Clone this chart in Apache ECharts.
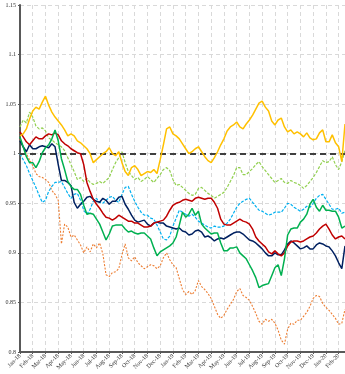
<!DOCTYPE html>
<html>
<head>
<meta charset="utf-8">
<script src="https://cdn.jsdelivr.net/npm/echarts@6/dist/echarts.min.js"></script>
<style>
  html, body { margin: 0; padding: 0; background: #ffffff; }
  #chart { width: 345px; height: 374px; }
</style>
</head>
<body>
<div id="chart"></div>
<script>
// Month labels of the horizontal axis (one tick per month start)
const monthLabels = ['Jan-18','Feb-18','Mar-18','Apr-18','May-18','Jun-18','Jul-18','Aug-18','Sep-18','Oct-18','Nov-18','Dec-18',
  'Jan-19','Feb-19','Mar-19','Apr-19','May-19','Jun-19','Jul-19','Aug-19','Sep-19','Oct-19','Nov-19','Dec-19',
  'Jan-20','Feb-20'];

// Weekly observations, expressed as months elapsed since Jan-18
const weeksPerMonth = 4;
const obsCount = 103;

// Relative performance indices (1 = start level)
const amberSeries = [
  1.018,1.020,1.025,1.035,1.043,1.047,1.045,1.052,1.058,1.049,
  1.042,1.037,1.033,1.029,1.024,1.018,1.020,1.018,1.013,1.011,
  1.008,1.005,1.000,0.991,0.994,0.997,1.000,1.002,1.006,1.000,
  0.998,1.002,0.991,0.982,0.978,0.986,0.988,0.984,0.978,0.980,
  0.982,0.981,0.984,0.980,0.994,1.009,1.025,1.027,1.020,1.018,
  1.015,1.010,1.005,1.000,1.002,1.005,1.007,1.002,0.997,0.993,
  0.991,0.996,1.002,1.009,1.015,1.023,1.027,1.029,1.032,1.027,
  1.025,1.030,1.034,1.039,1.045,1.051,1.053,1.047,1.043,1.033,
  1.029,1.034,1.036,1.027,1.022,1.024,1.020,1.022,1.020,1.017,
  1.021,1.016,1.014,1.015,1.021,1.024,1.012,1.012,1.019,1.011,
  1.007,0.992,1.030];

const limeSeries = [
  1.027,1.034,1.031,1.042,1.037,1.028,1.025,1.026,1.023,1.016,
  1.014,1.011,1.009,1.007,1.003,0.996,0.989,0.982,0.974,0.976,
  0.972,0.975,0.971,0.969,0.970,0.972,0.970,0.973,0.976,0.984,
  0.991,0.996,1.002,0.991,0.982,0.978,0.974,0.976,0.972,0.974,
  0.977,0.974,0.971,0.975,0.979,0.984,0.986,0.983,0.974,0.968,
  0.969,0.966,0.963,0.960,0.958,0.959,0.965,0.966,0.963,0.960,
  0.958,0.955,0.957,0.959,0.961,0.966,0.972,0.978,0.986,0.986,
  0.979,0.979,0.982,0.985,0.989,0.992,0.987,0.983,0.979,0.975,
  0.971,0.973,0.975,0.971,0.970,0.973,0.971,0.970,0.968,0.965,
  0.968,0.972,0.976,0.981,0.987,0.993,0.991,0.992,0.997,0.989,
  0.984,0.992,1.003];

const skySeries = [
  1.000,0.994,0.988,0.980,0.973,0.966,0.958,0.951,0.953,0.962,
  0.967,0.971,0.971,0.972,0.966,0.960,0.955,0.959,0.960,0.953,
  0.943,0.939,0.944,0.952,0.955,0.951,0.950,0.953,0.956,0.957,
  0.953,0.951,0.959,0.966,0.967,0.959,0.952,0.946,0.941,0.938,
  0.938,0.935,0.934,0.928,0.921,0.914,0.913,0.917,0.927,0.935,
  0.943,0.941,0.939,0.937,0.939,0.936,0.932,0.930,0.928,0.926,
  0.925,0.927,0.926,0.926,0.927,0.930,0.934,0.940,0.946,0.950,
  0.952,0.954,0.955,0.951,0.947,0.943,0.942,0.940,0.938,0.939,
  0.941,0.941,0.941,0.945,0.950,0.949,0.946,0.944,0.942,0.944,
  0.947,0.946,0.950,0.955,0.958,0.959,0.954,0.949,0.944,0.944,
  0.945,0.940,0.941];

const navySeries = [
  1.013,1.007,1.002,1.009,1.005,1.005,1.007,1.008,1.007,1.006,
  1.010,1.007,0.989,0.973,0.973,0.971,0.968,0.951,0.945,0.949,
  0.952,0.956,0.957,0.954,0.952,0.951,0.955,0.953,0.949,0.952,
  0.952,0.956,0.957,0.949,0.944,0.938,0.933,0.931,0.932,0.933,
  0.929,0.927,0.930,0.931,0.930,0.930,0.927,0.926,0.925,0.924,
  0.925,0.922,0.921,0.918,0.919,0.922,0.923,0.921,0.916,0.917,
  0.915,0.912,0.914,0.915,0.914,0.916,0.918,0.920,0.921,0.921,
  0.919,0.916,0.913,0.912,0.910,0.907,0.904,0.900,0.897,0.897,
  0.900,0.898,0.898,0.903,0.909,0.912,0.910,0.907,0.904,0.905,
  0.907,0.904,0.904,0.908,0.910,0.909,0.907,0.906,0.902,0.897,
  0.890,0.884,0.907];

const crimsonSeries = [
  1.022,1.017,1.012,1.009,1.013,1.017,1.015,1.015,1.018,1.020,
  1.019,1.021,1.019,1.013,1.010,1.008,1.005,1.003,1.001,1.000,
  0.989,0.971,0.962,0.954,0.949,0.945,0.940,0.936,0.935,0.933,
  0.935,0.938,0.936,0.934,0.932,0.932,0.930,0.930,0.928,0.926,
  0.926,0.927,0.930,0.931,0.932,0.933,0.937,0.943,0.948,0.950,
  0.951,0.953,0.954,0.953,0.952,0.955,0.956,0.955,0.954,0.955,
  0.955,0.951,0.945,0.934,0.929,0.928,0.928,0.930,0.932,0.934,
  0.932,0.931,0.929,0.924,0.916,0.912,0.909,0.906,0.901,0.899,
  0.902,0.899,0.897,0.900,0.907,0.911,0.912,0.912,0.911,0.912,
  0.914,0.916,0.917,0.920,0.924,0.927,0.929,0.924,0.918,0.914,
  0.916,0.917,0.914];

const emeraldSeries = [
  1.017,1.007,0.997,0.991,0.991,0.986,0.992,1.001,1.006,1.009,
  1.015,1.024,1.013,0.995,0.984,0.972,0.967,0.964,0.964,0.959,
  0.948,0.939,0.940,0.939,0.934,0.929,0.921,0.913,0.919,0.927,
  0.928,0.928,0.928,0.924,0.921,0.922,0.920,0.919,0.920,0.920,
  0.917,0.914,0.905,0.897,0.901,0.903,0.905,0.907,0.910,0.916,
  0.928,0.941,0.936,0.939,0.945,0.938,0.942,0.929,0.925,0.922,
  0.919,0.920,0.920,0.910,0.902,0.902,0.905,0.905,0.906,0.900,
  0.897,0.894,0.888,0.882,0.875,0.865,0.867,0.868,0.869,0.877,
  0.885,0.888,0.877,0.894,0.918,0.924,0.925,0.925,0.931,0.934,
  0.939,0.949,0.954,0.946,0.942,0.948,0.943,0.943,0.942,0.942,
  0.936,0.925,0.927];

const coralSeries = [
  1.015,1.007,1.000,0.994,0.988,0.980,0.977,0.976,0.974,0.971,
  0.963,0.959,0.953,0.909,0.929,0.926,0.916,0.918,0.913,0.908,
  0.900,0.906,0.901,0.909,0.905,0.910,0.899,0.878,0.876,0.880,
  0.881,0.884,0.898,0.909,0.895,0.892,0.896,0.890,0.887,0.884,
  0.886,0.888,0.887,0.884,0.887,0.895,0.900,0.893,0.888,0.885,
  0.874,0.863,0.858,0.861,0.858,0.862,0.872,0.866,0.863,0.859,
  0.854,0.846,0.838,0.834,0.837,0.843,0.848,0.853,0.861,0.864,
  0.857,0.855,0.852,0.846,0.839,0.831,0.828,0.833,0.831,0.833,
  0.829,0.822,0.812,0.808,0.823,0.829,0.828,0.832,0.832,0.836,
  0.840,0.846,0.854,0.857,0.856,0.849,0.845,0.842,0.838,0.834,
  0.828,0.829,0.843];

// Reference level drawn as a dashed horizontal rule
const parLevel = 1;

// Y axis range and step
const yMin = 0.8, yMax = 1.15, yStep = 0.05;

const xPos = Array.from({ length: obsCount }, (_, i) => i / weeksPerMonth);
const pairs = vals => vals.map((v, i) => [xPos[i], v]);

const seriesDefs = [
  { name: 'coral',   data: coralSeries,   color: '#ED7D31', width: 1.1, type: [2, 1.5] },
  { name: 'lime',    data: limeSeries,    color: '#92D050', width: 1.2, type: [3, 1.5] },
  { name: 'sky',     data: skySeries,     color: '#00B0F0', width: 1.2, type: [3, 1.5] },
  { name: 'navy',    data: navySeries,    color: '#002060', width: 1.5, type: 'solid' },
  { name: 'crimson', data: crimsonSeries, color: '#C00000', width: 1.5, type: 'solid' },
  { name: 'emerald', data: emeraldSeries, color: '#00B050', width: 1.5, type: 'solid' },
  { name: 'amber',   data: amberSeries,   color: '#FFC000', width: 1.5, type: 'solid' }
];

const chart = echarts.init(document.getElementById('chart'), null, { renderer: 'canvas' });

const series = seriesDefs.map((d, k) => ({
  name: d.name,
  type: 'line',
  data: pairs(d.data),
  symbol: 'none',
  lineStyle: { color: d.color, width: d.width, type: d.type },
  z: 2 + k,
  silent: true
}));

// dashed parity line
series.push({
  type: 'line',
  data: [],
  silent: true,
  z: 20,
  markLine: {
    symbol: 'none',
    silent: true,
    label: { show: false },
    lineStyle: { color: '#404040', width: 2, type: [6, 4] },
    data: [{ yAxis: parLevel }]
  }
});

chart.setOption({
  animation: false,
  backgroundColor: '#ffffff',
  grid: { left: 20, right: 0, top: 5, bottom: 22, containLabel: false },
  xAxis: {
    type: 'value',
    min: 0,
    max: (obsCount - 1) / weeksPerMonth,
    interval: 1,
    axisLine: { show: true, onZero: false, lineStyle: { color: '#595959', width: 2 } },
    axisTick: { show: true, length: 2, lineStyle: { color: '#595959' } },
    axisLabel: {
      rotate: 45,
      margin: 3,
      fontFamily: 'Liberation Serif',
      fontSize: 6,
      color: '#333333',
      showMaxLabel: false,
      formatter: v => (Number.isInteger(v) && monthLabels[v]) ? monthLabels[v] : ''
    },
    splitLine: { show: true, lineStyle: { color: '#d9d9d9', width: 1, type: [4, 3] } }
  },
  yAxis: {
    type: 'value',
    min: yMin,
    max: yMax,
    interval: yStep,
    axisLine: { show: true, lineStyle: { color: '#595959', width: 2 } },
    axisTick: { show: true, length: 2, lineStyle: { color: '#595959' } },
    axisLabel: {
      margin: 4,
      fontFamily: 'Liberation Serif',
      fontSize: 6,
      color: '#333333',
      formatter: v => String(Math.round(v * 100) / 100)
    },
    splitLine: { show: true, lineStyle: { color: '#d9d9d9', width: 1, type: [4, 3] } }
  },
  series: series
});
</script>
</body>
</html>
